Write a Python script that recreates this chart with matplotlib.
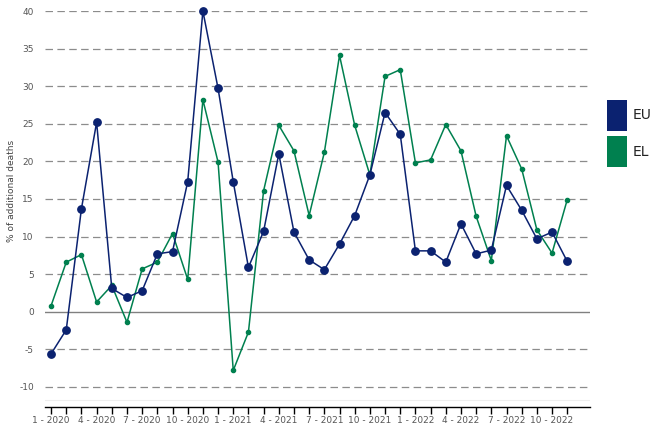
import matplotlib
matplotlib.use('Agg')
import matplotlib.pyplot as plt
from matplotlib.patches import Rectangle

# monthly values, Jan 2020 .. Nov 2022
months = ['%d - %d' % (m, y) for y in (2020, 2021, 2022) for m in range(1, 13)][:35]
eu = [-5.6, -2.4, 13.7, 25.2, 3.1, 1.9, 2.8, 7.7, 8.0, 17.3, 40.0, 29.7,
      17.3, 5.9, 10.7, 21.0, 10.6, 6.9, 5.6, 9.0, 12.8, 18.2, 26.5, 23.6,
      8.1, 8.1, 6.6, 11.7, 7.7, 8.2, 16.8, 13.5, 9.7, 10.6, 6.7]
el = [0.8, 6.6, 7.6, 1.3, 3.5, -1.4, 5.7, 6.6, 10.4, 4.3, 28.2, 19.9,
      -7.8, -2.7, 16.1, 24.8, 21.4, 12.8, 21.2, 34.1, 24.8, 18.2, 31.3, 32.2,
      19.8, 20.2, 24.9, 21.4, 12.7, 6.8, 23.4, 19.0, 10.9, 7.8, 14.9]
yticks = [-10, -5, 0, 5, 10, 15, 20, 25, 30, 35, 40]
series_names = ['EU', 'EL']

EU_COLOR = '#0b2270'
EL_COLOR = '#00804f'

W, H = 657, 429
fig = plt.figure(figsize=(W/100, H/100), dpi=100)
ax = fig.add_axes([45/W, 1-406.5/H, (590-45)/W, (406.5-11)/H])

x = list(range(len(months)))
for v in yticks:
    if v == 0:
        ax.axhline(0, color='#808080', lw=1.0, zorder=1)
    else:
        ax.axhline(v, color='#8c8c8c', lw=0.9, ls=(0, (6, 3.5)), zorder=1)
ax.axhline(-11.8, color='#eeeeee', lw=0.8, zorder=1)

ax.plot(x, el, color=EL_COLOR, lw=1.1, marker='o', markersize=3,
        zorder=3, clip_on=False)
ax.plot(x, eu, color=EU_COLOR, lw=1.1, marker='o', markersize=5.3,
        zorder=4, clip_on=False)

ax.set_xlim(-0.4, 35.5)
ax.set_ylim(-12.6, 40)
ax.set_yticks(yticks)
ax.set_yticklabels([str(v) for v in yticks])
ax.set_xticks(x)
ax.set_xticklabels([m if i % 3 == 0 else '' for i, m in enumerate(months)])

for s in ('top', 'right', 'left'):
    ax.spines[s].set_visible(False)
ax.spines['bottom'].set_color('black')
ax.spines['bottom'].set_linewidth(1.0)
ax.tick_params(axis='y', length=0, pad=8, labelsize=6.5, labelcolor='#555555')
ax.tick_params(axis='x', length=5, width=1, color='black', direction='out',
               labelsize=6.5, labelcolor='#555555', pad=2)

fig.text(12/W, 1-191/H, '% of additional deaths', rotation=90,
         ha='center', va='center', fontsize=6.5, color='#444444')

# legend boxes drawn by hand to match the tall swatches
for i, (name, col) in enumerate(zip(series_names, [EU_COLOR, EL_COLOR])):
    top = 100 + i * 36
    fig.patches.append(Rectangle((607/W, 1-(top+31)/H), 20/W, 31/H,
                                 transform=fig.transFigure, facecolor=col,
                                 edgecolor='none'))
    fig.text(633/W, 1-(top+15.5)/H, name, ha='left', va='center',
             fontsize=10, color='#222222')

fig.savefig('out.png', dpi=100)
